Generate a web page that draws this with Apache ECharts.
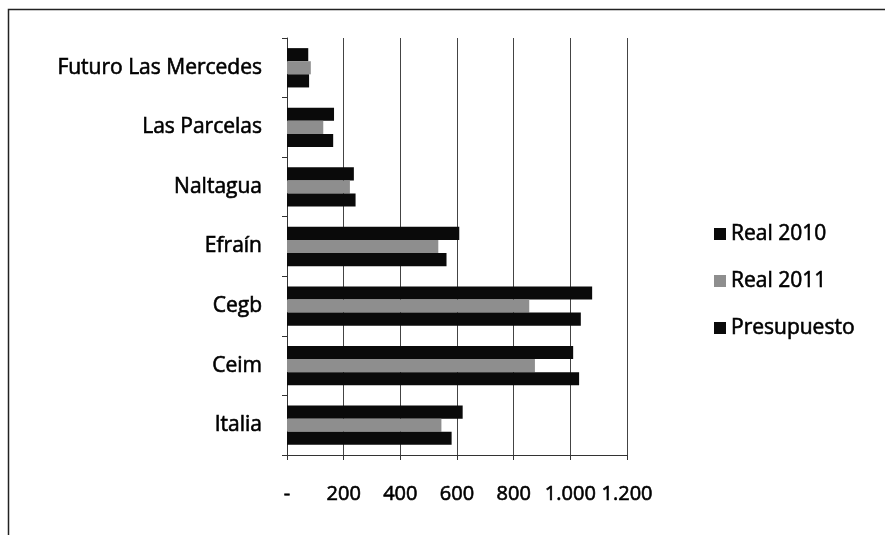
<!DOCTYPE html>
<html style="height: 100%">
<head>
<meta charset="utf-8">
<script src="https://cdn.jsdelivr.net/npm/echarts@6/dist/echarts.min.js"></script>
</head>
<body style="height: 100%; margin: 0; background: #fff;">
<div id="container" style="width: 885px; height: 535px"></div>
<script type="text/javascript">
var categories = ['Italia', 'Ceim', 'Cegb', 'Efraín', 'Naltagua', 'Las Parcelas', 'Futuro Las Mercedes'];
// ECharts stacks the first series at the top of each group
var real2010 = [620, 1010, 1077, 608, 236, 166, 75];
var real2011 = [545, 875, 855, 534, 222, 128, 84];
var presupuesto = [581, 1031, 1037, 563, 242, 163, 78];
var seriesNames = ['Real 2010', 'Real 2011', 'Presupuesto'];

var myChart = echarts.init(document.getElementById('container'));
var font = 'Open Sans';
// slight outline to get the heavier look of the scanned text
var heavy = { textBorderColor: '#000', textBorderWidth: 0.6 };

var option = {
    animation: false,
    textStyle: { fontFamily: font, color: '#000' },
    graphic: [{
        type: 'rect',
        shape: { x: 8.5, y: 9.5, width: 890, height: 540 },
        style: { fill: 'none', stroke: '#222', lineWidth: 1.5 }
    }],
    legend: {
        orient: 'vertical',
        left: 709,
        top: 214,
        itemWidth: 12,
        itemHeight: 12,
        itemGap: 17,
        icon: 'rect',
        textStyle: Object.assign({ fontSize: 21, color: '#000', fontFamily: font, lineHeight: 30 }, heavy),
        data: seriesNames
    },
    grid: { left: 287, right: 258, top: 38, bottom: 80 },
    xAxis: {
        type: 'value',
        min: 0,
        max: 1200,
        interval: 200,
        axisLine: { show: true, lineStyle: { color: '#333', width: 1 } },
        axisTick: { show: true, length: 5, lineStyle: { color: '#333' } },
        splitLine: { show: true, lineStyle: { color: '#444', width: 1 } },
        axisLabel: Object.assign({
            margin: 29,
            fontSize: 20,
            color: '#000',
            fontFamily: font,
            formatter: function (v) {
                if (v === 0) return '-';
                return String(v).replace(/\B(?=(\d{3})+(?!\d))/g, '.');
            }
        }, heavy)
    },
    yAxis: {
        type: 'category',
        data: categories,
        axisLine: { show: true, lineStyle: { color: '#333', width: 1 } },
        axisTick: { show: true, length: 5, lineStyle: { color: '#333' } },
        axisLabel: Object.assign({ margin: 25, fontSize: 21, color: '#000', fontFamily: font }, heavy)
    },
    series: [
        { name: seriesNames[0], type: 'bar', data: real2010, barGap: '0%', barCategoryGap: '34%', itemStyle: { color: '#0a0a0a' } },
        { name: seriesNames[1], type: 'bar', data: real2011, itemStyle: { color: '#8e8e8e' } },
        { name: seriesNames[2], type: 'bar', data: presupuesto, itemStyle: { color: '#0a0a0a' } }
    ]
};
myChart.setOption(option);
</script>
</body>
</html>
